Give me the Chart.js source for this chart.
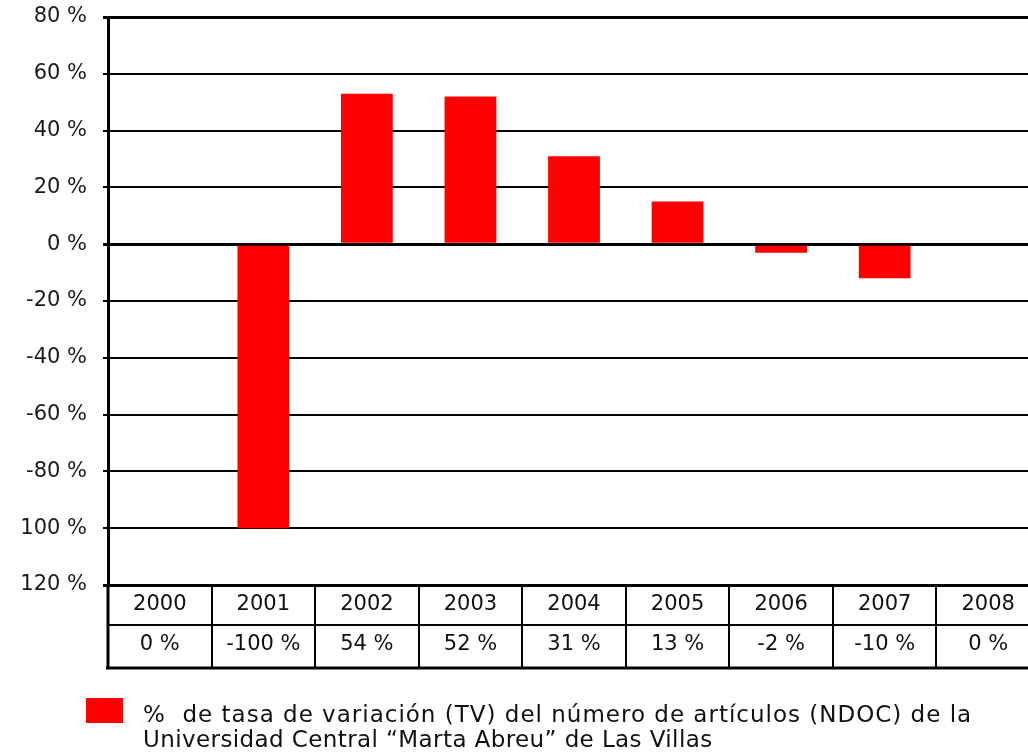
<!DOCTYPE html>
<html>
<head>
<meta charset="utf-8">
<script src="https://cdn.jsdelivr.net/npm/chart.js@4/dist/chart.umd.min.js"></script>
<style>
  html, body { margin: 0; padding: 0; background: #fff; overflow: hidden; }
  #wrap { position: absolute; left: 0; top: 0; width: 1040px; height: 752px; }
  #legend { position: absolute; left: 86px; top: 702px; font: 23px "DejaVu Sans", sans-serif; color: #111; line-height: 25px; letter-spacing: 1px; }
  #legend .box { position: absolute; left: 0; top: -4px; width: 37px; height: 25px; background: #ff0000; }
  #legend .txt { position: absolute; left: 57px; top: 0; white-space: nowrap; }
  #legend .l2 { letter-spacing: 0.4px; }
</style>
</head>
<body>
<div id="wrap"><canvas id="tvChart"></canvas></div>
<div id="legend">
  <div class="box"></div>
  <div class="txt">%&nbsp; de tasa de variación (TV) del número de artículos (NDOC) de la<br><span class="l2">Universidad Central “Marta Abreu” de Las Villas</span></div>
</div>
<script>
// Tasa de variación por año, UCLV
const years = ['2000', '2001', '2002', '2003', '2004', '2005', '2006', '2007', '2008'];
const barValues = [0, -100, 53, 52, 31, 15, -3, -12, 0];
const tableValues = ['0 %', '-100 %', '54 %', '52 %', '31 %', '13 %', '-2 %', '-10 %', '0 %'];
const yTicks = [80, 60, 40, 20, 0, -20, -40, -60, -80, -100, -120];
const yTickLabels = ['80 %', '60 %', '40 %', '20 %', '0 %', '-20 %', '-40 %', '-60 %', '-80 %', '100 %', '120 %'];

const FONT = '"DejaVu Sans", sans-serif';

// draws the year / value table under the plot
const dataTable = {
    id: 'dataTable',
    afterDraw(chart) {
        const { ctx, chartArea, scales } = chart;
        const x = scales.x;
        const top = chartArea.bottom;
        const mid = top + 40;
        const bot = top + 83;
        const step = x.getPixelForValue(1) - x.getPixelForValue(0);
        ctx.save();
        ctx.strokeStyle = '#000';
        ctx.lineWidth = 2;
        ctx.beginPath();
        ctx.moveTo(chartArea.left, mid);
        ctx.lineTo(chartArea.right, mid);
        ctx.stroke();
        ctx.lineWidth = 3;
        ctx.beginPath();
        ctx.moveTo(chartArea.left - 2, bot);
        ctx.lineTo(chartArea.right, bot);
        ctx.moveTo(chartArea.left, top);
        ctx.lineTo(chartArea.left, bot);
        ctx.stroke();
        ctx.lineWidth = 2;
        for (let i = 1; i < years.length; i++) {
            const bx = Math.round(x.getPixelForValue(i) - step / 2);
            ctx.beginPath();
            ctx.moveTo(bx, top);
            ctx.lineTo(bx, bot);
            ctx.stroke();
        }
        ctx.fillStyle = '#111';
        ctx.font = '21px ' + FONT;
        ctx.textAlign = 'center';
        ctx.textBaseline = 'middle';
        years.forEach((yr, i) => {
            const cx = x.getPixelForValue(i);
            ctx.fillText(yr, cx, top + 20);
            ctx.fillText(tableValues[i], cx, mid + 20);
        });
        ctx.restore();
    }
};

new Chart(document.getElementById('tvChart'), {
    type: 'bar',
    data: {
        labels: years,
        datasets: [{
            data: barValues,
            backgroundColor: '#ff0000',
            borderWidth: 0,
            barPercentage: 0.5,
            categoryPercentage: 1
        }]
    },
    options: {
        responsive: true,
        maintainAspectRatio: false,
        animation: false,
        layout: { padding: { top: 17, bottom: 167, left: 0, right: 0 } },
        plugins: { legend: { display: false }, tooltip: { enabled: false } },
        scales: {
            x: { display: false },
            y: {
                min: -120,
                max: 80,
                afterBuildTicks(scale) {
                    scale.ticks = yTicks.map(v => ({ value: v }));
                },
                afterFit(scale) {
                    scale.width = 108;
                    scale.paddingTop = 0;
                    scale.paddingBottom = 0;
                },
                ticks: {
                    color: '#1a1a1a',
                    padding: 16,
                    font: { family: FONT, size: 21 },
                    callback: (v) => yTickLabels[yTicks.indexOf(v)]
                },
                grid: {
                    color: '#000',
                    tickLength: 5,
                    lineWidth: (c) => (c.tick && (c.tick.value === 0 || c.tick.value === 80 || c.tick.value === -120)) ? 3 : 2
                },
                border: { display: true, color: '#000', width: 3 }
            }
        }
    },
    plugins: [dataTable]
});
</script>
</body>
</html>
